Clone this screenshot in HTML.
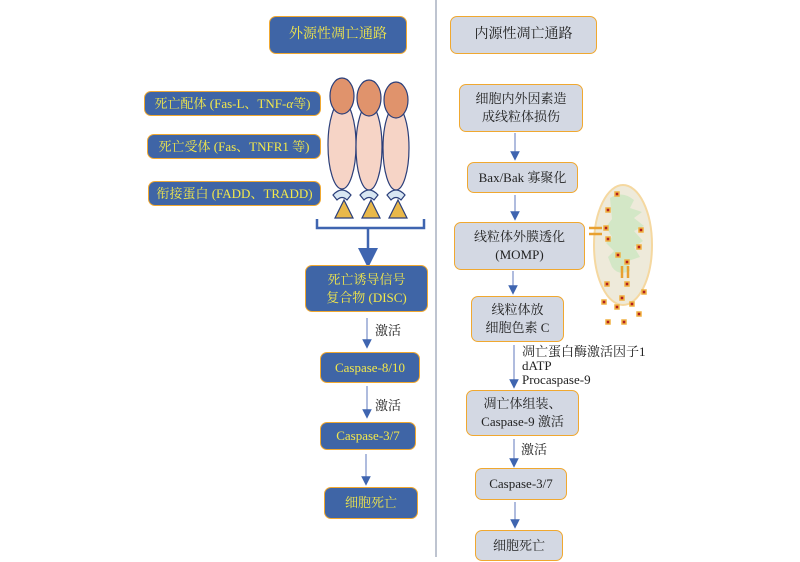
<!DOCTYPE html>
<html><head><meta charset="utf-8"><style>
body{margin:0;width:800px;height:562px;background:#fff;position:relative;overflow:hidden;font-family:"Liberation Serif","Noto Serif CJK SC",serif;}
.b{position:absolute;box-sizing:border-box;border:1.5px solid #f0a830;border-radius:7px;display:flex;align-items:center;justify-content:center;text-align:center;font-size:13px;line-height:18px;}
.d{background:#3f65a6;color:#f3e84a;}
.l{background:#d3d8e3;color:#222;}
.t{position:absolute;font-size:13px;color:#222;line-height:15px;}
</style></head><body>
<svg width="800" height="562" style="position:absolute;left:0;top:0">
<defs><marker id="a" markerWidth="8" markerHeight="8" refX="4" refY="4" orient="auto"><path d="M0,0 L8,4 L0,8z" fill="#3f65b0"/></marker></defs>
<line x1="436" y1="0" x2="436" y2="557" stroke="#a9b0c0" stroke-width="1.5"/>
<g stroke="#2b3f7a" stroke-width="1.2">
<ellipse cx="342" cy="145" rx="14" ry="44" fill="#f6d4c6"/>
<ellipse cx="369" cy="147" rx="13" ry="43" fill="#f6d4c6"/>
<ellipse cx="396" cy="148" rx="13" ry="42" fill="#f6d4c6"/>
<ellipse cx="342" cy="96" rx="12" ry="18" fill="#e0936c"/>
<ellipse cx="369" cy="98" rx="12" ry="18" fill="#e0936c"/>
<ellipse cx="396" cy="100" rx="12" ry="18" fill="#e0936c"/>
<path d="M333,195 q9,-10 18,0 l-4,5 q-5,-5 -10,0z" fill="#d8e6f2"/>
<path d="M360,195 q9,-10 18,0 l-4,5 q-5,-5 -10,0z" fill="#d8e6f2"/>
<path d="M387,195 q9,-10 18,0 l-4,5 q-5,-5 -10,0z" fill="#d8e6f2"/>
<path d="M335,218 l9,-18 l9,18z" fill="#e9b84a"/>
<path d="M362,218 l9,-18 l9,18z" fill="#e9b84a"/>
<path d="M389,218 l9,-18 l9,18z" fill="#e9b84a"/>
</g>
<path d="M317,219 v9 h107 v-9" fill="none" stroke="#3f65b0" stroke-width="2.5"/>
<line x1="368" y1="228" x2="368" y2="258" stroke="#3f65b0" stroke-width="2.5" marker-end="url(#a)"/>
<g stroke="#7a90c8" stroke-width="1.2" marker-end="url(#a)">
<line x1="367" y1="318" x2="367" y2="344"/>
<line x1="367" y1="386" x2="367" y2="414"/>
<line x1="366" y1="454" x2="366" y2="481"/>
<line x1="515" y1="133" x2="515" y2="156"/>
<line x1="515" y1="195" x2="515" y2="216"/>
<line x1="513" y1="271" x2="513" y2="290"/>
<line x1="514" y1="345" x2="514" y2="384"/>
<line x1="514" y1="439" x2="514" y2="463"/>
<line x1="515" y1="502" x2="515" y2="524"/>
</g>
<ellipse cx="623" cy="245" rx="29" ry="60" fill="#eeeada" stroke="#f5d8a0" stroke-width="2"/>
<path d="M610,198 q12,-8 24,2 l-4,8 l12,4 l-8,6 l10,8 l-10,5 l9,10 l-9,6 l6,10 l-12,4 l2,10 q-12,5 -18,-4 l-4,-10 l6,-6 l-8,-8 l6,-6 l-6,-10 l6,-8z" fill="#d3e7c6"/>
<g stroke="#e8a030" stroke-width="2.5"><line x1="589" y1="228" x2="602" y2="228"/><line x1="589" y1="234" x2="602" y2="234"/><line x1="622" y1="266" x2="622" y2="278"/><line x1="628" y1="266" x2="628" y2="278"/></g>
<g fill="#b02020" stroke="#f0b040" stroke-width="1.5">
<rect x="615" y="192" width="4" height="4"/><rect x="606" y="208" width="4" height="4"/><rect x="604" y="226" width="4" height="4"/><rect x="606" y="237" width="4" height="4"/><rect x="639" y="228" width="4" height="4"/><rect x="637" y="245" width="4" height="4"/><rect x="616" y="253" width="4" height="4"/><rect x="625" y="260" width="4" height="4"/>
<rect x="605" y="282" width="4" height="4"/><rect x="625" y="282" width="4" height="4"/><rect x="642" y="290" width="4" height="4"/><rect x="620" y="296" width="4" height="4"/><rect x="602" y="300" width="4" height="4"/><rect x="630" y="302" width="4" height="4"/><rect x="615" y="305" width="4" height="4"/><rect x="637" y="312" width="4" height="4"/><rect x="606" y="320" width="4" height="4"/><rect x="622" y="320" width="4" height="4"/>
</g>
</svg>
<div class="b d" style="left:269px;top:16px;width:138px;height:38px;font-size:14px">外源性凋亡通路</div>
<div class="b d" style="left:144px;top:91px;width:177px;height:25px">死亡配体 (Fas-L、TNF-<i>α</i> 等)</div>
<div class="b d" style="left:147px;top:134px;width:174px;height:25px">死亡受体 (Fas、TNFR1 等)</div>
<div class="b d" style="left:148px;top:181px;width:173px;height:25px">衔接蛋白 (FADD、TRADD)</div>
<div class="b d" style="left:305px;top:265px;width:123px;height:47px">死亡诱导信号<br>复合物 (DISC)</div>
<div class="t" style="left:375px;top:323px">激活</div>
<div class="b d" style="left:320px;top:352px;width:100px;height:31px">Caspase-8/10</div>
<div class="t" style="left:375px;top:398px">激活</div>
<div class="b d" style="left:320px;top:422px;width:96px;height:28px">Caspase-3/7</div>
<div class="b d" style="left:324px;top:487px;width:94px;height:32px">细胞死亡</div>
<div class="b l" style="left:450px;top:16px;width:147px;height:38px;font-size:14px">内源性凋亡通路</div>
<div class="b l" style="left:459px;top:84px;width:124px;height:48px">细胞内外因素造<br>成线粒体损伤</div>
<div class="b l" style="left:467px;top:162px;width:111px;height:31px">Bax/Bak 寡聚化</div>
<div class="b l" style="left:454px;top:222px;width:131px;height:48px">线粒体外膜透化<br>(MOMP)</div>
<div class="b l" style="left:471px;top:296px;width:93px;height:46px">线粒体放<br>细胞色素 C</div>
<div class="t" style="left:522px;top:345px;line-height:14px">凋亡蛋白酶激活因子1<br>dATP<br>Procaspase-9</div>
<div class="b l" style="left:466px;top:390px;width:113px;height:46px">凋亡体组装、<br>Caspase-9 激活</div>
<div class="t" style="left:521px;top:442px">激活</div>
<div class="b l" style="left:475px;top:468px;width:92px;height:32px">Caspase-3/7</div>
<div class="b l" style="left:475px;top:530px;width:88px;height:31px">细胞死亡</div>
</body></html>
